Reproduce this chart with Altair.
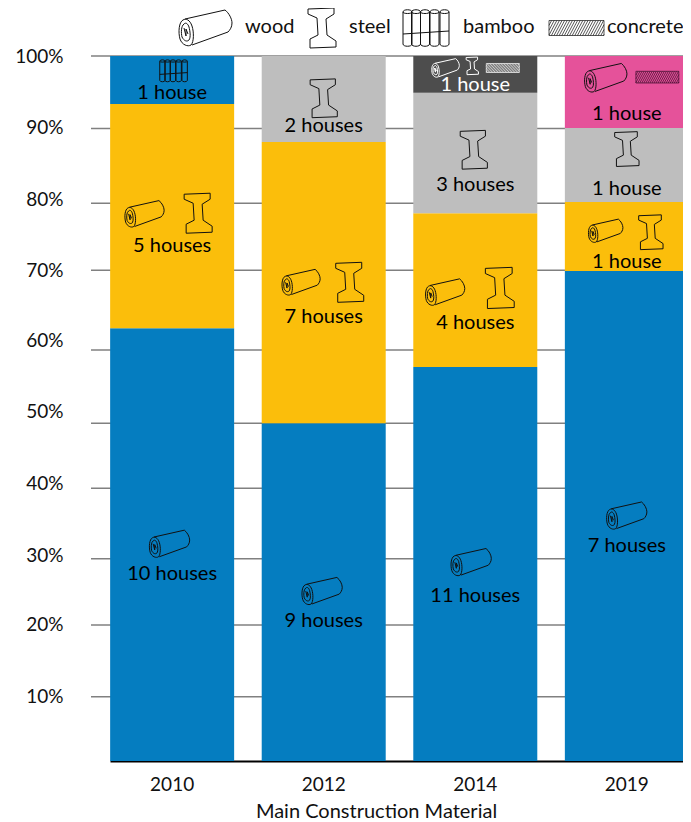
import altair as alt
import pandas as pd

# ---- stacked segments (share of plot height, in %) ----
seg_year = ["2010"] * 3 + ["2012"] * 3 + ["2014"] * 4 + ["2019"] * 4
seg_order = [0, 1, 2, 0, 1, 2, 0, 1, 2, 3, 0, 1, 2, 3]
seg_group = ["wood", "wood+steel", "bamboo",
             "wood", "wood+steel", "steel",
             "wood", "wood+steel", "steel", "wood+steel+concrete",
             "wood", "wood+steel", "steel", "wood+concrete"]
seg_share = [61.4, 31.8, 6.8,
             47.9, 39.9, 12.2,
             55.9, 21.8, 17.1, 5.2,
             69.5, 9.8, 10.5, 10.2]
group_names = ["wood", "wood+steel", "steel", "bamboo", "wood+steel+concrete", "wood+concrete"]
group_colors = ["#057DC0", "#FBBE0B", "#BEBEBE", "#057DC0", "#4D4D4D", "#E5529A"]

# ---- house count labels ----
lab_year = ["2010", "2010", "2010", "2012", "2012", "2012", "2014", "2014", "2014", "2014", "2019", "2019", "2019", "2019"]
lab_text = ["1 house", "5 houses", "10 houses", "2 houses", "7 houses", "9 houses",
            "1 house", "3 houses", "4 houses", "11 houses", "1 house", "1 house", "1 house", "7 houses"]
lab_pct = [94.9, 73.2, 26.7, 90.2, 63.1, 20.0, 96.0, 81.8, 62.3, 23.5, 91.9, 81.3, 70.9, 30.6]
lab_color = ["black"] * 6 + ["white"] + ["black"] * 7

# ---- material icons inside bars ----
icon_year = ["2010"] * 4 + ["2012"] * 4 + ["2014"] * 7 + ["2019"] * 6
icon_kind = ["bamboo", "wood", "steel", "wood",
             "steel", "wood", "steel", "wood",
             "wood", "steel", "concrete", "steel", "wood", "steel", "wood",
             "wood", "concrete", "steel", "wood", "steel", "wood"]
icon_pct = [97.9, 77.6, 77.7, 30.8,
            94.0, 67.9, 67.9, 24.1,
            98.3, 98.6, 98.3, 86.7, 66.5, 67.1, 28.2,
            96.9, 97.0, 86.8, 75.2, 75.0, 34.8]
icon_shift = [2, -28, 26, -3,
              0, -23, 26, -2,
              -30, -3, 27.5, -1.5, -30.5, 24.5, -4.5,
              -21.5, 30.5, 0, -21.5, 24, -0.5]
icon_scale = [0.6, 0.74, 1.0, 0.76,
              0.97, 0.72, 1.0, 0.76,
              0.52, 0.44, 0.6, 0.97, 0.74, 1.03, 0.76,
              0.8, 0.78, 0.87, 0.65, 0.87, 0.76]
icon_ink = ["#111111"] * 8 + ["white", "white", "white"] + ["#111111"] * 4 + ["#111111", "#3A0A2A"] + ["#111111"] * 4

# ---- axis ----
years = ["2010", "2012", "2014", "2019"]
tick_pct = [100, 89.9, 79.7, 69.6, 59.7, 49.6, 39.3, 29.2, 19.4, 9.2]
grid_pct = [100, 89.7, 79.1, 69.6, 58.3, 47.9, 38.7, 28.7, 19.3, 9.1]

FONT = "Lato"
FS = 20
HALF_BAR = 62.15

# ---- icon outlines, in px at legend size ----
WOOD = ("M-20,-9 L20,-18 C24,-15 27,-9 27,-5 C27,-1 25,2 23,4 L-13,17 "
        "M-22,-8 C-26,-6 -27,4 -25,11 C-23,17 -17,19 -14,17 C-11,14 -11,4 -13,-2 C-15,-8 -19,-10 -22,-8 Z "
        "M-21,-4 C-24,-2 -24,5 -23,9 C-21,13 -18,14 -16,12 C-14,9 -15,3 -16,-1 C-17,-4 -19,-6 -21,-4 Z "
        "M-21,0 L-19,8 L-19,1 L-17,6")
STEEL = "M-14,-19 L12,-20 L12,-14 L4,-9 L5,7 L14,13 L14,19 L-12,20 L-12,11 L-4,7 L-5,-10 L-14,-14 Z"


def bamboo_path():
    parts = []
    for c in (-19.5, -11, -2, 7.5, 17.5):
        parts.append(f"M{c-4.5},-16 C{c-4.5},-19 {c+4.5},-19 {c+4.5},-16 C{c+4.5},-14 {c-4.5},-14 {c-4.5},-16 Z")
        parts.append(f"M{c-4.5},-16 L{c-4.5},16 C{c-4.5},19 {c+4.5},19 {c+4.5},16 L{c+4.5},-16")
    parts.append("M-24,6 L22,3")
    return " ".join(parts)


def concrete_path():
    w, h = 27.5, 7.5
    parts = [f"M{-w},{-h} L{w},{-h} L{w},{h} L{-w},{h} Z"]
    x = -w - 8
    while x < w:
        x0, y0, x1, y1 = x, h, x + 8, -h
        if x0 < -w:
            y0 = h - (-w - x0) * (2 * h / 8)
            x0 = -w
        if x1 > w:
            y1 = -h + (x1 - w) * (2 * h / 8)
            x1 = w
        parts.append(f"M{x0:.2f},{y0:.2f} L{x1:.2f},{y1:.2f}")
        x += 2.6
    return " ".join(parts)


BAMBOO = bamboo_path()
CONCRETE = concrete_path()
kind_names = ["wood", "steel", "bamboo", "concrete"]
kind_paths = [WOOD, STEEL, BAMBOO, CONCRETE]

seg_df = pd.DataFrame({"year": seg_year, "seq": seg_order, "group": seg_group, "share": seg_share})
lab_df = pd.DataFrame({"year": lab_year, "text": lab_text, "pct": lab_pct, "ink": lab_color})
icon_df = pd.DataFrame({"year": icon_year, "kind": icon_kind, "pct": icon_pct,
                        "shift": [s + HALF_BAR for s in icon_shift],
                        "size": [4 * s * s for s in icon_scale], "ink": icon_ink,
                        "sw": [0.7 if k == "concrete" else 1.0 for k in icon_kind]})
grid_df = pd.DataFrame({"pct": grid_pct})

x_scale = alt.Scale(domain=years, range=[32, 611], paddingInner=0.18, paddingOuter=0)
y_scale = alt.Scale(domain=[0, 100], nice=False)
x_enc = alt.X("year:N", scale=x_scale, title="Main Construction Material",
              axis=alt.Axis(labelAngle=0, labelFont=FONT, labelFontSize=19, labelColor="#111111",
                            labelPadding=14, ticks=False, domainColor="#000000", domainWidth=2,
                            titleFont=FONT, titleFontSize=20, titleFontWeight="normal",
                            titleColor="#111111", titlePadding=7, titleX=298, grid=False))

grid = alt.Chart(grid_df).mark_rule(color="#808080", strokeWidth=1.5).encode(
    y=alt.Y("pct:Q", scale=y_scale, title=None,
            axis=alt.Axis(values=tick_pct, labelExpr="round(datum.value/10)*10 + '%'", labelFont=FONT,
                          labelFontSize=19, labelColor="#111111", labelPadding=15, ticks=False,
                          domain=False, grid=False)),
    x=alt.value(13), x2=alt.value(605))

bars = alt.Chart(seg_df).mark_bar(size=124).encode(
    x=x_enc,
    y=alt.Y("share:Q", stack="zero", scale=y_scale),
    color=alt.Color("group:N", scale=alt.Scale(domain=group_names, range=group_colors), legend=None),
    order=alt.Order("seq:Q"))

labels = alt.Chart(lab_df).mark_text(font=FONT, fontSize=FS, baseline="middle", dy=1).encode(
    x=x_enc, y=alt.Y("pct:Q", scale=y_scale), text="text:N",
    color=alt.Color("ink:N", scale=None))

shape_scale = alt.Scale(domain=kind_names, range=kind_paths)
icons = alt.Chart(icon_df).mark_point(filled=False, opacity=1).encode(
    x=x_enc, y=alt.Y("pct:Q", scale=y_scale),
    xOffset=alt.XOffset("shift:Q", scale=None),
    shape=alt.Shape("kind:N", scale=shape_scale, legend=None),
    size=alt.Size("size:Q", scale=None),
    stroke=alt.Stroke("ink:N", scale=None),
    strokeWidth=alt.StrokeWidth("sw:Q", scale=None))

layers = [grid, bars, icons, labels]

# legend row above the plot
legend_icon_x = [127, 244, 349, 498.5]
legend_text_x = [167, 271, 385, 529]
for name, path, ix, tx in zip(kind_names, kind_paths, legend_icon_x, legend_text_x):
    d = pd.DataFrame({"t": [name]})
    layers.append(alt.Chart(d).mark_point(shape=path, size=4, filled=False, opacity=1, stroke="#111111",
                                          strokeWidth=0.7 if name == "concrete" else 1.0).encode(
        x=alt.value(ix), y=alt.value(-28)))
    layers.append(alt.Chart(d).mark_text(font=FONT, fontSize=FS, align="left", baseline="middle",
                                         color="#111111").encode(
        x=alt.value(tx), y=alt.value(-29), text="t:N"))

chart = alt.layer(*layers).properties(
    width=605, height=705,
    autosize=alt.AutoSizeParams(type="none"),
    padding={"left": 70, "top": 48, "right": 0, "bottom": 60},
).configure_view(stroke=None)

chart.save("out.html", embed_options={"renderer": "svg", "actions": False})
